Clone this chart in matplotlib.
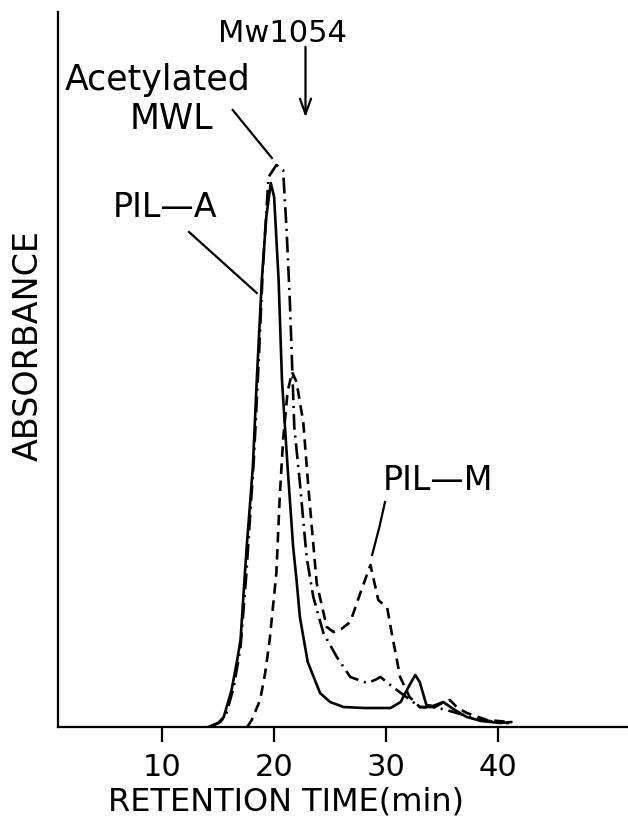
"""
GPC elution profiles of PIL-A, PIL-M and acetylated MWL.
"""
import matplotlib
matplotlib.use('Agg')
import matplotlib.pyplot as plt

# PIL-A (solid)
t_pila = [14.1, 15.0, 15.5, 16.2, 16.7, 17.0, 17.35, 17.55, 18.1, 18.45, 18.9, 19.3, 19.7,
          20.0, 20.4, 20.7, 21.2, 21.7, 22.0, 22.3, 23.0, 24.1, 25.0, 26.2, 28.0, 30.4,
          31.3, 32.0, 32.6, 33.0, 33.6, 34.2, 35.1, 36.0, 37.2, 38.5, 40.2, 41.2]
a_pila = [0.0, 0.04, 0.10, 0.37, 0.67, 0.87, 1.47, 1.80, 2.60, 3.47, 4.47, 5.10, 5.44,
          5.30, 4.47, 3.47, 2.60, 1.80, 1.47, 1.10, 0.65, 0.34, 0.25, 0.20, 0.19, 0.19,
          0.25, 0.40, 0.52, 0.45, 0.22, 0.21, 0.25, 0.18, 0.10, 0.06, 0.04, 0.05]

# Acetylated MWL (dash-dot)
t_mwl = [14.3, 15.2, 15.7, 16.4, 17.0, 17.5, 18.2, 18.6, 19.0, 19.5, 20.2, 20.8, 21.1,
         21.4, 21.6, 21.8, 22.3, 22.9, 23.5, 24.4, 25.6, 26.8, 28.3, 29.0, 29.5, 30.6,
         31.8, 33.0, 34.2, 35.4, 37.8, 40.2, 41.0]
a_mwl = [0.0, 0.05, 0.12, 0.40, 0.80, 1.50, 2.70, 3.60, 4.60, 5.50, 5.62, 5.57, 5.00,
         4.27, 3.64, 3.00, 2.44, 1.70, 1.30, 0.94, 0.70, 0.50, 0.44, 0.47, 0.50, 0.40,
         0.30, 0.20, 0.20, 0.17, 0.09, 0.04, 0.04]

# PIL-M (dashed)
t_pilm = [17.6, 18.0, 18.75, 19.2, 19.6, 20.2, 20.5, 20.8, 21.2, 21.6, 22.0, 22.6, 23.1,
          23.8, 24.7, 25.3, 26.0, 26.8, 27.7, 28.6, 29.3, 30.1, 30.5, 31.25, 32.1, 33.0,
          34.2, 35.0, 35.7, 36.3, 37.2, 39.0, 41.0]
a_pilm = [0.0, 0.07, 0.27, 0.54, 0.87, 1.54, 2.30, 2.87, 3.35, 3.55, 3.45, 3.05, 2.34,
          1.44, 1.00, 0.95, 0.98, 1.05, 1.34, 1.62, 1.27, 1.19, 0.94, 0.50, 0.30, 0.20,
          0.19, 0.24, 0.27, 0.20, 0.14, 0.07, 0.05]

xticks = [10, 20, 30, 40]
mw_marker = 22.8  # Mw 1054 standard

plt.rcParams['font.family'] = ['DejaVu Sans']

fig = plt.figure(figsize=(6.28, 8.19), dpi=100)
ax = fig.add_axes([58 / 628, 92 / 819, 570 / 628, 715 / 819])

ax.plot(t_pila, a_pila, color='black', lw=1.9, solid_capstyle='round')
ax.plot(t_mwl, a_mwl, color='black', lw=1.9, linestyle=(0, (6, 2.2, 0.8, 2.2)))
ax.plot(t_pilm, a_pilm, color='black', lw=1.9, linestyle=(0, (4, 2.5)))

ax.set_xlim(0.7, 51.6)
ax.set_ylim(0, 7.15)
for side in ['top', 'right']:
    ax.spines[side].set_visible(False)
for side in ['left', 'bottom']:
    ax.spines[side].set_linewidth(1.6)
ax.set_yticks([])
ax.set_xticks(xticks)
ax.set_xticklabels([str(v) for v in xticks], fontsize=22)
ax.tick_params(axis='x', direction='out', length=11, width=1.6, pad=8)
ax.set_xlabel('RETENTION TIME(min)', fontsize=23)
ax.xaxis.set_label_coords(0.40, -0.083)
fig.text(28 / 628, 1 - 345 / 819, 'ABSORBANCE', rotation=90, fontsize=24,
         ha='center', va='center')

# labels and leader lines
ax.text(15.0, 6.85, 'Mw1054', fontsize=22, va='baseline')
ax.annotate('', xy=(mw_marker, 6.07), xytext=(mw_marker, 6.83),
            arrowprops=dict(arrowstyle='->,head_length=1.1,head_width=0.4', lw=1.6, color='black'))
ax.text(1.3, 6.37, 'Acetylated', fontsize=25, va='baseline')
ax.text(7.1, 5.98, 'MWL', fontsize=25, va='baseline')
ax.plot([16.3, 19.8], [6.17, 5.69], color='black', lw=1.6)
ax.text(5.6, 5.1, 'PIL\u2014A', fontsize=24, va='baseline')
ax.plot([12.4, 18.45], [4.95, 4.34], color='black', lw=1.6)
ax.text(29.7, 2.37, 'PIL\u2014M', fontsize=24, va='baseline')
ax.plot([29.9, 29.4, 28.75], [2.25, 2.0, 1.72], color='black', lw=1.6)

plt.savefig('out.png', dpi=100)
